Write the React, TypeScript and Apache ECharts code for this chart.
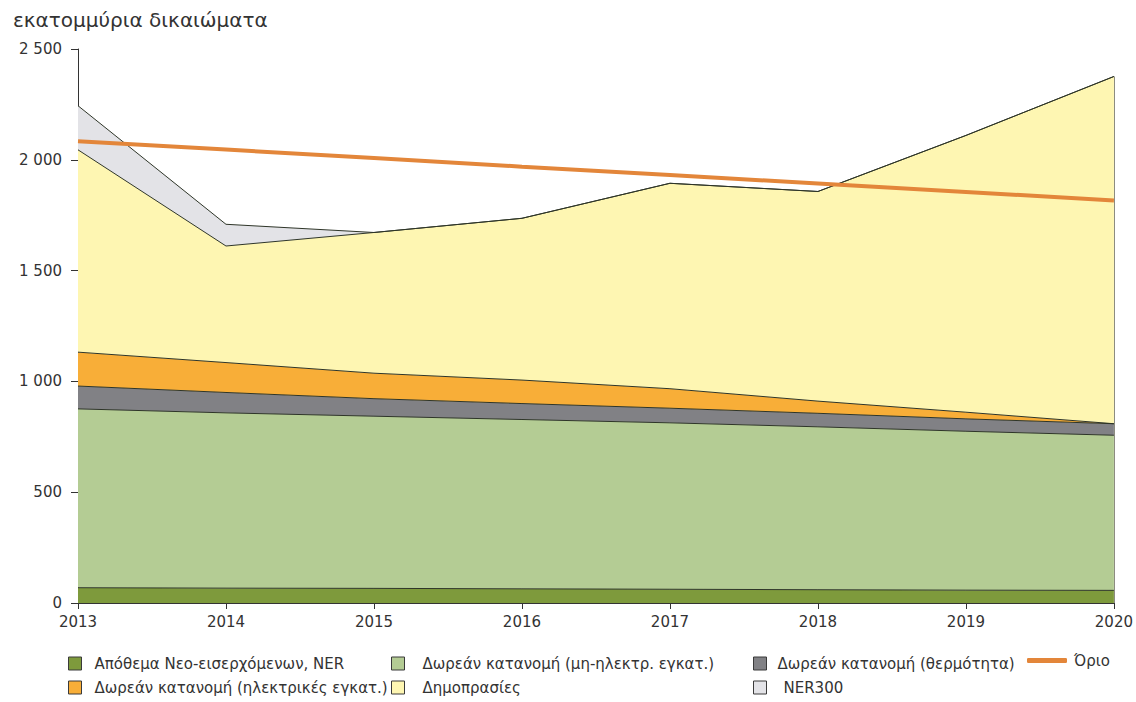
import React, { useEffect, useRef } from "react";
import * as echarts from "echarts";

const years = ["2013", "2014", "2015", "2016", "2017", "2018", "2019", "2020"];

const nerReserve = [69, 67, 66, 64, 62, 60, 58, 57];
const freeNonElectric = [807, 791, 777, 764, 751, 735, 717, 700];
const freeHeat = [103, 92, 79, 72, 66, 61, 56, 52];
const freeElectric = [153, 135, 115, 106, 88, 55, 30, 0];
const auctions = [913, 526, 635, 730, 927, 946, 1249, 1567];
const ner300 = [199, 98, 0, 0, 0, 0, 0, 0];
const cap = [2084, 2046, 2008, 1969, 1931, 1893, 1855, 1816];

const yTicks = [0, 500, 1000, 1500, 2000, 2500];

const NAMES = {
  ner: "Απόθεμα Νεο-εισερχόμενων, NER",
  nonEl: "Δωρεάν κατανομή (μη-ηλεκτρ. εγκατ.)",
  heat: "Δωρεάν κατανομή (θερμότητα)",
  cap: "Όριο",
  el: "Δωρεάν κατανομή (ηλεκτρικές εγκατ.)",
  auc: "Δημοπρασίες",
  ner300: "NER300",
};

const FONT = "DejaVu Sans";

function fmt(v: number): string {
  if (v >= 1000) {
    const th = Math.floor(v / 1000);
    const r = String(v % 1000).padStart(3, "0");
    return th + " " + r;
  }
  return String(v);
}

export default function App() {
  const ref = useRef<HTMLDivElement>(null);

  useEffect(() => {
    if (!ref.current) return;
    const chart = echarts.init(ref.current, null, { renderer: "svg" });

    const lineCol = "#2e3528";
    const areaSeries = (name: string, data: number[], color: string) => ({
      name,
      type: "line",
      stack: "total",
      data,
      symbol: "none",
      itemStyle: { color },
      lineStyle: { color: lineCol, width: 1 },
      areaStyle: { color, opacity: 1 },
      z: 2,
    });

    const lastTotal =
      nerReserve[7] + freeNonElectric[7] + freeHeat[7] + freeElectric[7] + auctions[7] + ner300[7];

    const legendBase = {
      orient: "horizontal",
      itemWidth: 13,
      itemHeight: 13,
      icon: "rect",
      itemStyle: { borderColor: "#3a3a3a", borderWidth: 1 },
      textStyle: { fontFamily: FONT, fontSize: 15, color: "#333" },
      selectedMode: false,
    };
    const mkLegend = (name: string, left: number, top: number, pad: number) => ({
      ...legendBase,
      data: [name],
      left,
      top,
      textStyle: { ...legendBase.textStyle, padding: [0, 0, 0, pad] },
    });

    const auctionSeries: any = areaSeries(NAMES.auc, auctions, "#FEF6B2");
    auctionSeries.markLine = {
      silent: true,
      symbol: "none",
      label: { show: false },
      lineStyle: { color: "#8c8c80", width: 1, type: "solid" },
      data: [[{ coord: [years[7], 0] }, { coord: [years[7], lastTotal] }]],
    };

    chart.setOption({
      animation: false,
      backgroundColor: "#ffffff",
      title: {
        text: "εκατομμύρια δικαιώματα",
        left: 8,
        top: 5,
        textStyle: { fontFamily: FONT, fontSize: 20, fontWeight: "normal", color: "#333" },
      },
      grid: { left: 78, right: 20, top: 49, bottom: 99, containLabel: false },
      xAxis: {
        type: "category",
        data: years,
        boundaryGap: false,
        axisLine: { show: true, lineStyle: { color: "#333", width: 1 } },
        axisTick: { show: true, length: 6, lineStyle: { color: "#333" } },
        axisLabel: { fontFamily: FONT, fontSize: 15, color: "#333", margin: 11 },
        splitLine: { show: false },
      },
      yAxis: {
        type: "value",
        min: yTicks[0],
        max: yTicks[yTicks.length - 1],
        interval: 500,
        axisLine: { show: true, lineStyle: { color: "#333", width: 1 } },
        axisTick: { show: true, length: 7, lineStyle: { color: "#333" } },
        axisLabel: { fontFamily: FONT, fontSize: 15, color: "#333", margin: 16, formatter: (v: number) => fmt(v) },
        splitLine: { show: false },
      },
      legend: [
        mkLegend(NAMES.ner, 63, 651, 8),
        mkLegend(NAMES.nonEl, 386, 651, 13),
        mkLegend(NAMES.heat, 748, 651, 6),
        {
          ...legendBase,
          data: [NAMES.cap],
          icon: "roundRect",
          itemWidth: 40,
          itemHeight: 5,
          itemStyle: { borderWidth: 0 },
          left: 1022,
          top: 648,
          textStyle: { ...legendBase.textStyle, padding: [0, 0, 3, 2] },
        },
        mkLegend(NAMES.el, 63, 675, 8),
        mkLegend(NAMES.auc, 386, 675, 13),
        mkLegend(NAMES.ner300, 748, 675, 12),
      ],
      series: [
        areaSeries(NAMES.ner, nerReserve, "#7E9A3C"),
        areaSeries(NAMES.nonEl, freeNonElectric, "#B4CC94"),
        areaSeries(NAMES.heat, freeHeat, "#818185"),
        areaSeries(NAMES.el, freeElectric, "#F8AE38"),
        auctionSeries,
        areaSeries(NAMES.ner300, ner300, "#E3E3E7"),
        {
          name: NAMES.cap,
          type: "line",
          data: cap,
          symbol: "none",
          itemStyle: { color: "#E3863A" },
          lineStyle: { color: "#E3863A", width: 4 },
          z: 5,
        },
      ],
    });

    return () => chart.dispose();
  }, []);

  return (
    <div
      ref={ref}
      style={{ position: "fixed", left: 0, top: 0, width: 1136, height: 702, background: "#fff" }}
    />
  );
}
